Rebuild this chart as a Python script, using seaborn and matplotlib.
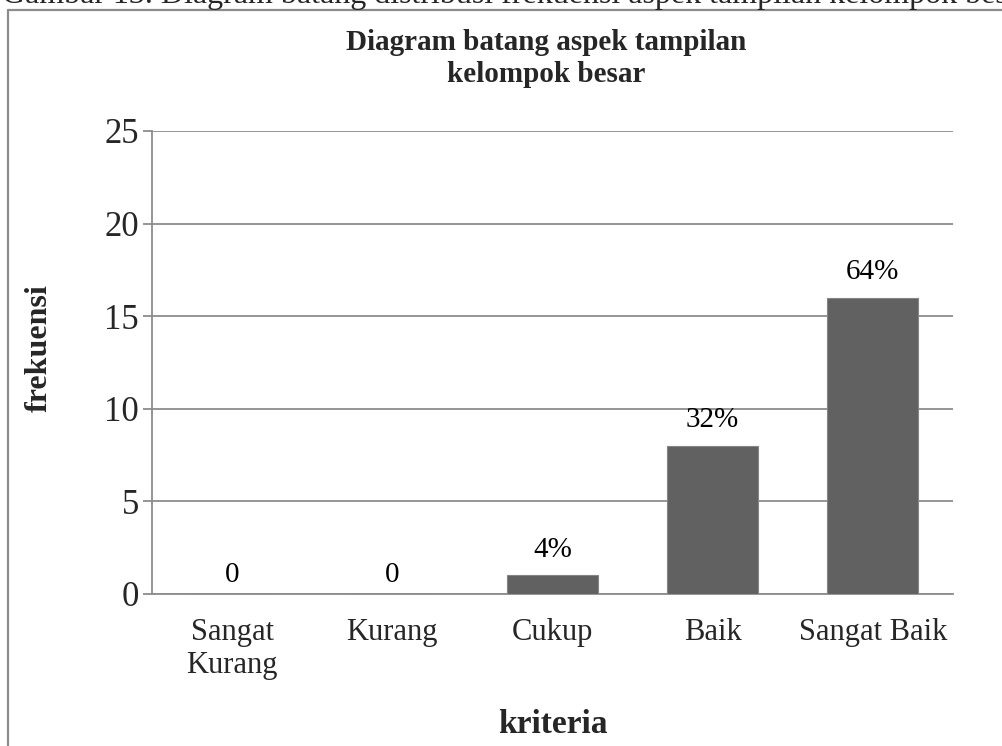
import matplotlib
matplotlib.use("Agg")
import matplotlib.pyplot as plt
import seaborn as sns
import pandas as pd
from matplotlib.lines import Line2D

# ---------------------------------------------------------
# DATA

kriteria = ["Sangat\nKurang", "Kurang", "Cukup", "Baik", "Sangat Baik"]
frekuensi = [0, 0, 1, 8, 16]
label_bar = ["0", "0", "4%", "32%", "64%"]
y_ticks = [0, 5, 10, 15, 20, 25]

caption = "Gambar 13. Diagram batang distribusi frekuensi aspek tampilan kelompok besar"
judul = "Diagram batang aspek tampilan\nkelompok besar"

df = pd.DataFrame({"kriteria": kriteria, "frekuensi": frekuensi})

# ---------------------------------------------------------
# STYLE

sns.set_style("white")
plt.rcParams["font.family"] = ["Liberation Serif", "DejaVu Serif"]

grid_col = "#8c8c8c"
bar_col = "#616161"

fig = plt.figure(figsize=(10.03, 7.46), dpi=100)
ax = fig.add_axes([0.1515, 0.2038, 0.7985, 0.6206])

sns.barplot(data=df, x="kriteria", y="frekuensi", color=bar_col,
            saturation=1, width=0.57, edgecolor="#858585", linewidth=0.8,
            ax=ax, zorder=3)

# value labels above bars
for i, (v, t) in enumerate(zip(frekuensi, label_bar)):
    off = 4 if v == 0 else 9
    ax.annotate(t, (i, v), xytext=(0, off), textcoords="offset points",
                ha="center", va="bottom", fontsize=21, color="black")

ax.set_ylim(0, 25)
ax.set_yticks(y_ticks)
ax.yaxis.grid(True, color=grid_col, linewidth=1.3, zorder=0)
ax.set_axisbelow(True)

for s in ["top", "right"]:
    ax.spines[s].set_visible(False)
ax.spines["left"].set_color(grid_col)
ax.spines["left"].set_linewidth(1.3)
ax.spines["bottom"].set_color(grid_col)
ax.spines["bottom"].set_linewidth(1.3)

ax.tick_params(axis="y", length=6.5, width=1.3, color=grid_col, pad=3,
               labelsize=25, left=True)
ax.tick_params(axis="x", length=0, pad=17, labelsize=22)

ax.set_xlabel("kriteria", fontsize=24, fontweight="bold", labelpad=21)
ax.set_ylabel("frekuensi", fontsize=23, fontweight="bold")
ax.yaxis.set_label_coords(-0.122, 0.531)

fig.text(0.545, 0.961, judul, ha="center", va="top", fontsize=21,
         fontweight="bold", linespacing=1.22)

# caption (cut off at top) and frame around the chart
fig.text(0.002, 1 - 3 / 746, caption, ha="left", va="baseline", fontsize=23)
fig.add_artist(Line2D([8 / 1003, 8 / 1003], [0, 1 - 10 / 746],
                      transform=fig.transFigure, color=grid_col, linewidth=1.6))
fig.add_artist(Line2D([8 / 1003, 1], [1 - 10 / 746, 1 - 10 / 746],
                      transform=fig.transFigure, color=grid_col, linewidth=1.6))

fig.savefig("out.png", dpi=100)
